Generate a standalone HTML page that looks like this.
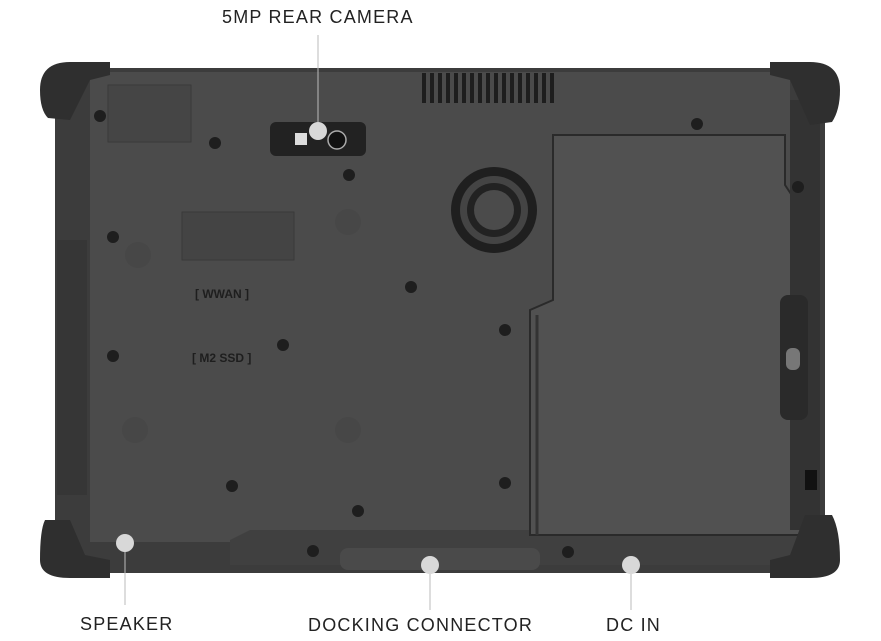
<!DOCTYPE html>
<html><head><style>
html,body{margin:0;padding:0;background:#fff;width:881px;height:641px;overflow:hidden}
.lb{position:absolute;font-family:"Liberation Sans",sans-serif;font-size:18px;color:#222;letter-spacing:1.2px;white-space:nowrap}
</style></head><body>
<svg width="881" height="641" style="position:absolute;left:0;top:0">
<rect x="55" y="68" width="770" height="505" rx="22" fill="#3c3c3c"/>
<rect x="90" y="72" width="700" height="470" fill="#4b4b4b"/>
<path d="M230 540 L250 530 L800 530 L800 565 L230 565 Z" fill="#404040"/>
<rect x="340" y="548" width="200" height="22" rx="8" fill="#4a4a4a"/>
<path d="M553 135 L785 135 L785 185 L805 215 L805 535 L530 535 L530 310 L553 300 Z" fill="#515151" stroke="#2a2a2a" stroke-width="2"/>
<line x1="537" y1="315" x2="537" y2="535" stroke="#333" stroke-width="3"/>
<rect x="790" y="100" width="30" height="430" fill="#333"/>
<path d="M40 90 Q40 62 70 62 L110 62 L110 75 L90 80 L70 120 L48 118 Q40 110 40 90Z" fill="#2f2f2f"/>
<path d="M840 90 Q840 62 810 62 L770 62 L770 75 L790 80 L810 125 L832 122 Q840 110 840 90Z" fill="#2f2f2f"/>
<path d="M40 560 Q40 578 70 578 L110 578 L110 560 L85 555 L70 520 L45 520 Q40 530 40 560Z" fill="#2f2f2f"/>
<path d="M840 560 Q840 578 810 578 L770 578 L770 560 L790 555 L805 515 L832 515 Q840 530 840 560Z" fill="#2f2f2f"/>
<rect x="57" y="240" width="30" height="255" fill="#363636"/>
<g fill="#1e1e1e">
<rect x="422" y="73" width="4" height="30"/><rect x="430" y="73" width="4" height="30"/><rect x="438" y="73" width="4" height="30"/><rect x="446" y="73" width="4" height="30"/><rect x="454" y="73" width="4" height="30"/><rect x="462" y="73" width="4" height="30"/><rect x="470" y="73" width="4" height="30"/><rect x="478" y="73" width="4" height="30"/><rect x="486" y="73" width="4" height="30"/><rect x="494" y="73" width="4" height="30"/><rect x="502" y="73" width="4" height="30"/><rect x="510" y="73" width="4" height="30"/><rect x="518" y="73" width="4" height="30"/><rect x="526" y="73" width="4" height="30"/><rect x="534" y="73" width="4" height="30"/><rect x="542" y="73" width="4" height="30"/><rect x="550" y="73" width="4" height="30"/>
</g>
<circle cx="494" cy="210" r="43" fill="#1f1f1f"/>
<circle cx="494" cy="210" r="34" fill="#444"/>
<circle cx="494" cy="210" r="27" fill="#222"/>
<circle cx="494" cy="210" r="20" fill="#4b4b4b"/>
<rect x="270" y="122" width="96" height="34" rx="6" fill="#222"/>
<circle cx="337" cy="140" r="9" fill="#111" stroke="#aaa" stroke-width="1.5"/>
<rect x="295" y="133" width="12" height="12" fill="#ddd"/>
<rect x="108" y="85" width="83" height="57" fill="#454545" stroke="#3a3a3a"/>
<rect x="182" y="212" width="112" height="48" fill="#444" stroke="#3a3a3a"/>
<text x="195" y="298" font-family="Liberation Sans" font-size="12" font-weight="bold" fill="#1e1e1e">[ WWAN ]</text>
<text x="192" y="362" font-family="Liberation Sans" font-size="12" font-weight="bold" fill="#1e1e1e">[ M2 SSD ]</text>
<g fill="#474747"><circle cx="138" cy="255" r="13"/><circle cx="348" cy="222" r="13"/><circle cx="135" cy="430" r="13"/><circle cx="348" cy="430" r="13"/></g>
<g fill="#1e1e1e">
<circle cx="215" cy="143" r="6"/><circle cx="349" cy="175" r="6"/><circle cx="113" cy="237" r="6"/><circle cx="411" cy="287" r="6"/><circle cx="283" cy="345" r="6"/><circle cx="505" cy="330" r="6"/><circle cx="113" cy="356" r="6"/><circle cx="232" cy="486" r="6"/><circle cx="505" cy="483" r="6"/><circle cx="358" cy="511" r="6"/><circle cx="568" cy="552" r="6"/><circle cx="697" cy="124" r="6"/><circle cx="798" cy="187" r="6"/><circle cx="100" cy="116" r="6"/><circle cx="313" cy="551" r="6"/>
</g>
<rect x="780" y="295" width="28" height="125" rx="8" fill="#2a2a2a"/>
<rect x="786" y="348" width="14" height="22" rx="6" fill="#777"/>
<rect x="805" y="470" width="12" height="20" fill="#111"/>
<g stroke="#bbb" stroke-width="1">
<line x1="318" y1="35" x2="318" y2="130"/>
<line x1="125" y1="543" x2="125" y2="605"/>
<line x1="430" y1="565" x2="430" y2="610"/>
<line x1="631" y1="565" x2="631" y2="610"/>
</g>
<g fill="#d8d8d8"><circle cx="318" cy="131" r="9"/><circle cx="125" cy="543" r="9"/><circle cx="430" cy="565" r="9"/><circle cx="631" cy="565" r="9"/></g>
</svg>
<div class="lb" style="left:222px;top:7px">5MP REAR CAMERA</div>
<div class="lb" style="left:80px;top:614px">SPEAKER</div>
<div class="lb" style="left:308px;top:615px">DOCKING CONNECTOR</div>
<div class="lb" style="left:606px;top:615px">DC IN</div>
</body></html>
